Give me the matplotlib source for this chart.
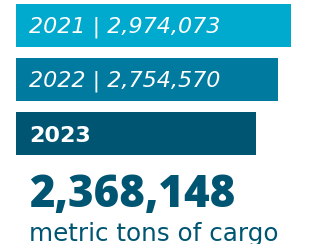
import matplotlib
matplotlib.use("Agg")
import matplotlib.pyplot as plt
import numpy as np

years = ["2021", "2022", "2023"]
values = [2974073, 2754570, 2368148]
colors = ["#00AACE", "#007A9E", "#005572"]
unit_label = "metric tons of cargo"

W, H = 309, 244
fig = plt.figure(figsize=(W / 100, H / 100), dpi=100)
ax = fig.add_axes([0, 0, 1, 1])
ax.set_axis_off()

# scale: pixel x = 16 + b*(v - base)
b = 35.0 / (values[0] - values[2])
base = values[0] - 275.0 / b
ax.set_xlim(base - 16.0 / b, base + (W - 16.0) / b)
ax.set_ylim(H, 0)

centers = [25.5, 79.5, 133.5]
vals = np.array(values, dtype=float)
ax.barh(centers, vals - base, left=base, height=43, color=colors)

xt = base + 13.0 / b
fam = ["DejaVu Sans"]
for i in range(2):
    ax.text(xt, centers[i] + 7.5, f"{years[i]} | {values[i]:,}", color="white",
            fontsize=16, fontstyle="oblique", family=fam,
            va="baseline", ha="left")
ax.text(xt, centers[2] + 8.5, years[2], color="white", fontsize=16, fontweight="bold",
        family=fam, va="baseline", ha="left")

ax.text(xt, 207, f"{values[2]:,}", color="#005572", fontsize=31.5, fontweight="heavy",
        family=["Open Sans", "DejaVu Sans"], va="baseline", ha="left")
ax.text(xt, 241, unit_label, color="#005572", fontsize=17.7,
        family=fam, va="baseline", ha="left")

fig.savefig("out.png", dpi=100)
